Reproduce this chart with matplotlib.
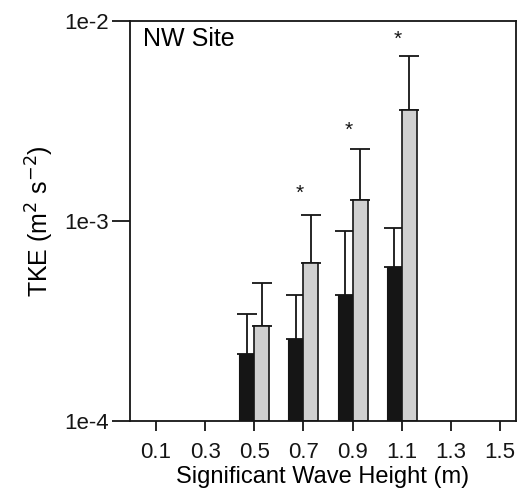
import matplotlib
matplotlib.use("Agg")
import matplotlib.pyplot as plt
import numpy as np

plt.rcParams['font.family'] = ['Liberation Sans', 'DejaVu Sans']

# wave height bins and TKE means / upper error (m2 s-2)
wave_height = [0.5, 0.7, 0.9, 1.1]
tke_black = [2.16e-4, 2.58e-4, 4.28e-4, 5.91e-4]
tke_black_top = [3.42e-4, 4.27e-4, 8.95e-4, 9.23e-4]
tke_gray = [3.00e-4, 6.14e-4, 1.27e-3, 3.60e-3]
tke_gray_top = [4.92e-4, 1.068e-3, 2.29e-3, 6.66e-3]
star_x = [0.7, 0.9, 1.1]
star_y = [1.38e-3, 2.83e-3, 8.1e-3]
xtick_vals = [0.1, 0.3, 0.5, 0.7, 0.9, 1.1, 1.3, 1.5]
ytick_vals = [1e-4, 1e-3, 1e-2]
ytick_text = ['1e-4', '1e-3', '1e-2']

fig = plt.figure(figsize=(5.31, 4.92), dpi=100)
ax = fig.add_axes([0.2448, 0.1443, 0.727, 0.813])

w = 0.061
base = 1e-4
x = np.array(wave_height)
bk = np.array(tke_black)
gr = np.array(tke_gray)

ax.bar(x - w / 2, bk - base, width=w, bottom=base, color='#151515', edgecolor='#151515', linewidth=0.8, zorder=2)
ax.bar(x + w / 2, gr - base, width=w, bottom=base, color='#d0d0d0', edgecolor='#151515', linewidth=1.2, zorder=2)

ax.errorbar(x - w / 2, bk, yerr=[np.zeros(4), np.array(tke_black_top) - bk], fmt='none',
            ecolor='#151515', elinewidth=1.3, capsize=7.5, capthick=1.3, zorder=1)
ax.errorbar(x + w / 2, gr, yerr=[np.zeros(4), np.array(tke_gray_top) - gr], fmt='none',
            ecolor='#151515', elinewidth=1.3, capsize=7.5, capthick=1.3, zorder=1)

for sx, sy in zip(star_x, star_y):
    ax.text(sx - 0.015, sy, '*', ha='center', va='center', fontsize=15, color='#151515')

ax.set_yscale('log')
ax.set_ylim(1e-4, 1e-2)
ax.set_xlim(-0.006, 1.565)
ax.set_yticks(ytick_vals)
ax.set_yticklabels(ytick_text)
ax.minorticks_off()
ax.set_xticks(xtick_vals)
ax.set_xticklabels([f'{v:.1f}' for v in xtick_vals])

for s in ax.spines.values():
    s.set_linewidth(1.3)
    s.set_color('#151515')
ax.tick_params(axis='x', direction='out', length=7, width=1.3, labelsize=16, pad=8, colors='#151515')
ax.tick_params(axis='y', direction='out', length=13, width=1.3, labelsize=16, pad=2, colors='#151515')

ax.text(0.033, 0.955, 'NW Site', transform=ax.transAxes, fontsize=18, ha='left', va='center')

ax.set_ylabel('TKE (m$^{2}$ s$^{-2}$)', fontsize=18, labelpad=6)
ax.set_xlabel('Significant Wave Height (m)', fontsize=17, labelpad=2)

fig.savefig('out.png', dpi=100)
